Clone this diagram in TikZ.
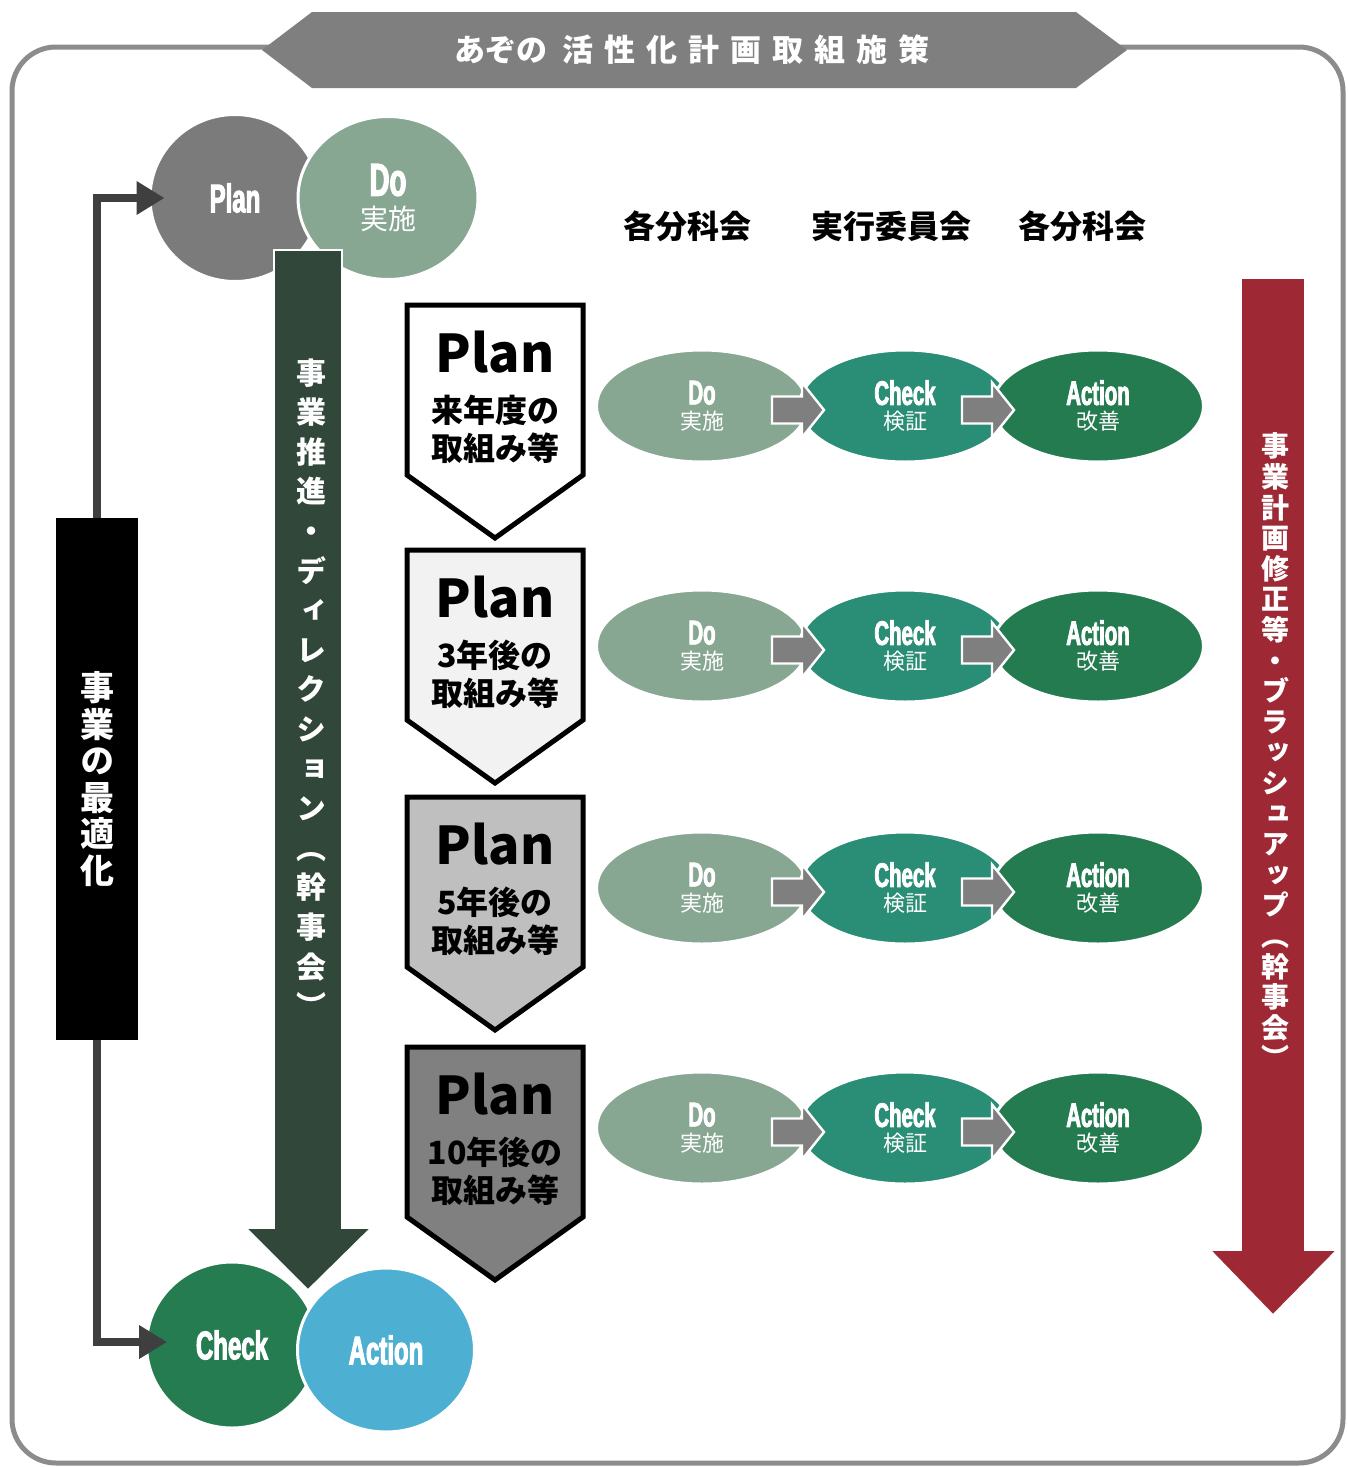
\documentclass[tikz,border=0pt]{standalone}
\usepackage{fontspec}
\usetikzlibrary{shapes.geometric,arrows.meta,calc}
\newfontfamily\jp{Noto Sans CJK JP}
\newfontfamily\jpv{Noto Sans CJK JP}[RawFeature=+vert]
\newfontfamily\imp{Liberation Sans}[FakeStretch=0.6,BoldFeatures={FakeBold=2.5}]
\definecolor{bannercol}{HTML}{7F7F7F}
\definecolor{framecol}{HTML}{8C8C8C}
\definecolor{plancol}{HTML}{7B7B7B}
\definecolor{docol}{HTML}{87A792}
\definecolor{dgreen}{HTML}{30473A}
\definecolor{checkcol}{HTML}{257C50}
\definecolor{actioncol}{HTML}{4DB0D2}
\definecolor{rowcheck}{HTML}{2A8D75}
\definecolor{rowaction}{HTML}{247B4F}
\definecolor{redcol}{HTML}{9E2833}
\definecolor{conncol}{HTML}{3F3F3F}
\definecolor{grayarrow}{HTML}{7F7F7F}
\newcommand\mygrar[2]{\path[garrow] (#1,#2) ++(0,-13.5) -- ++(30,0) -- ++(0,-14) -- ++(22,27.5) -- ++(-22,27.5) -- ++(0,-14) -- ++(-30,0) -- cycle;}
\newcommand\myshield[2]{\draw[shieldbox, fill=#2] (407,#1) -- (583,#1) -- (583,#1+170) -- (495,#1+233) -- (407,#1+170) -- cycle;}
\begin{document}
\begin{tikzpicture}[x=0.5pt,y=-0.5pt,
  bigc/.style={ellipse, inner sep=0pt, draw=white, line width=1.5pt, text=white, align=center},
  rowe/.style={ellipse, inner sep=0pt, draw=white, line width=1.5pt, minimum width=105.5pt, minimum height=56pt, text=white, align=center, font=\fontsize{11}{12.5}\selectfont},
  garrow/.style={fill=grayarrow, draw=white, line width=1.2pt},
  shieldbox/.style={draw=black, line width=2.5pt, line join=miter},
  vtxt/.style={text=white, align=center, inner sep=0pt},
  hdr/.style={font=\jp\bfseries\fontsize{16}{18}\selectfont},
  conn/.style={draw=conncol, line width=4pt, -{Triangle[length=14pt,width=16pt]}},
  bigarrow/.style={draw=white, line width=0.8pt}
]
\useasboundingbox (0,0) rectangle (1348,1467);
% frame
\draw[framecol, line width=2.5pt, rounded corners=22pt] (12,47) rectangle (1343,1463);
% banner
\fill[bannercol] (262,50) -- (312,12) -- (1076,12) -- (1127,50) -- (1076,88) -- (312,88) -- cycle;
\node[text=white, font=\jp\bfseries\fontsize{15.5}{15.5}\selectfont] (title) at (692,50)
  {あぞの\hspace{7.5pt}活\hspace{5.5pt}性\hspace{5.5pt}化\hspace{5.5pt}計\hspace{5.5pt}画\hspace{5.5pt}取\hspace{5.5pt}組\hspace{5.5pt}施\hspace{5.5pt}策};
% big circles
\node[bigc, fill=plancol, minimum width=85pt, minimum height=83.5pt] (planC) at (235,198)
  {\imp\bfseries\fontsize{20}{20}\selectfont Plan};
\node[bigc, fill=docol, minimum width=90pt, minimum height=81.5pt, font=\fontsize{14}{17}\selectfont] (doC) at (388,198)
  {{\imp\bfseries\fontsize{23}{23}\selectfont Do}\\{\jp 実施}};
\node[bigc, fill=checkcol, minimum width=85.5pt, minimum height=83pt] (checkC) at (232,1345)
  {\imp\bfseries\fontsize{20}{20}\selectfont Check};
\node[bigc, fill=actioncol, minimum width=88.5pt, minimum height=82pt] (actionC) at (386,1350)
  {\imp\bfseries\fontsize{20}{20}\selectfont Action};
% dark green arrow
\path[bigarrow, fill=dgreen] (274,250) -- (342,250) -- (342,1228) -- (371,1228) -- (308,1290) -- (246,1228) -- (274,1228) -- cycle;
\node[vtxt, font=\jpv\bfseries\fontsize{15}{19.8}\selectfont] (dgtext) at (311,688)
  {事\\業\\推\\進\\・\\デ\\ィ\\レ\\ク\\シ\\ョ\\ン\\︵\\幹\\事\\会\\︶};
% red arrow
\path[bigarrow, fill=redcol] (1241,278) -- (1305,278) -- (1305,1250) -- (1337,1250) -- (1273,1315) -- (1210,1250) -- (1241,1250) -- cycle;
\node[vtxt, font=\jpv\bfseries\fontsize{14}{15.3}\selectfont] (redtext) at (1275,751)
  {事\\業\\計\\画\\修\\正\\等\\・\\ブ\\ラ\\ッ\\シ\\ュ\\ア\\ッ\\プ\\︵\\幹\\事\\会\\︶};
% black bar
\node[fill=black, minimum width=41pt, minimum height=261pt, inner sep=0pt, text=white, align=center,
  font=\jpv\bfseries\fontsize{17}{18.3}\selectfont] (bar) at (97,779)
  {事\\業\\の\\最\\適\\化};
\draw[conn] (bar.north) |- ([xshift=8pt]planC.west);
\draw[conn] (bar.south) |- ([xshift=11pt,yshift=1.5pt]checkC.west);
% shields
\myshield{305}{white}
\myshield{550}{black!5}
\myshield{797}{black!25}
\myshield{1047}{black!50}
\foreach \i/\t/\l in {1/305/来年度の, 2/550/3年後の, 3/797/5年後の, 4/1047/10年後の}{
  \node[font=\jp\bfseries\fontsize{26}{26}\selectfont, inner sep=0pt] (p\i) at (495,\t+47) {Plan};
  \node[font=\jp\bfseries\fontsize{16}{19}\selectfont, align=center, inner sep=0pt] (t\i) at (495,\t+124) {\l\\取組み等};
}
% rows
\foreach \i/\y in {1/406, 2/646, 3/888, 4/1128}{
  \node[rowe, fill=docol] (d\i) at (702,\y) {{\imp\bfseries\fontsize{17}{17}\selectfont Do}\\{\jp 実施}};
  \node[rowe, fill=rowcheck] (c\i) at (905,\y) {{\imp\bfseries\fontsize{17}{17}\selectfont Check}\\{\jp 検証}};
  \node[rowe, fill=rowaction] (a\i) at (1098,\y) {{\imp\bfseries\fontsize{17}{17}\selectfont Action}\\{\jp 改善}};
  \mygrar{772}{\y+4}
  \mygrar{962}{\y+4}
}
% headers
\node[hdr] (h1) at (687,226) {各分科会};
\node[hdr] (h2) at (891,226) {実行委員会};
\node[hdr] (h3) at (1082,226) {各分科会};
\end{tikzpicture}
\end{document}
